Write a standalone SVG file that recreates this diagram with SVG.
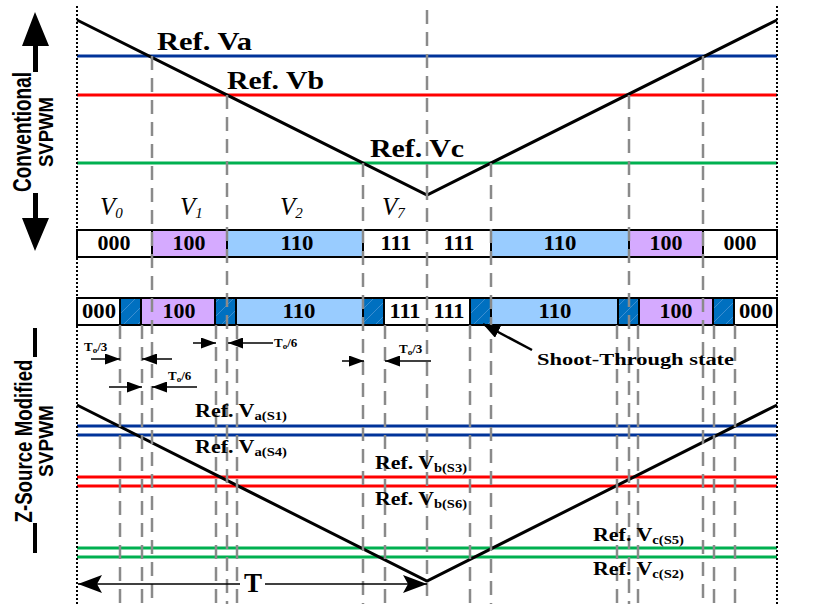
<svg xmlns="http://www.w3.org/2000/svg" width="840" height="604" viewBox="0 0 840 604">
<defs>
<style>
.ser{font-family:"Liberation Serif","Times New Roman",serif;font-weight:bold;fill:#000}
.ital{font-family:"Liberation Serif","Times New Roman",serif;font-style:italic;fill:#000}
.sans{font-family:"Liberation Sans",Arial,sans-serif;font-weight:bold;fill:#000}
.dash{stroke:#8a8a8a;stroke-width:2.5;stroke-dasharray:14 8;fill:none}
.dot{stroke:#000;stroke-width:2;stroke-dasharray:2 2;fill:none}
.tri{stroke:#000;stroke-width:3;fill:none;stroke-linejoin:miter}
.blue{stroke:#003399;stroke-width:3}
.red{stroke:#FF0000;stroke-width:3}
.green{stroke:#00B050;stroke-width:3}
.cell{stroke:#000;stroke-width:2}
.w{fill:#fff}.p{fill:#D5AAFF}.b{fill:#99CCFF}.h{fill:url(#hatch)}
.bt{font-size:20px;text-anchor:middle}
.arr{stroke:#000;stroke-width:1.5;fill:none}
.lab{font-size:18px}
.sub{font-size:12px}
.to{font-size:13px}
</style>
<pattern id="hatch" patternUnits="userSpaceOnUse" width="14" height="14">
<rect width="14" height="14" fill="#0070C0"/>
<path d="M0,14 L14,0" stroke="#4a95d6" stroke-width="0.8"/>
</pattern>
<marker id="ah" markerUnits="userSpaceOnUse" markerWidth="15" markerHeight="11" refX="15" refY="5.5" orient="auto"><path d="M0,0 L15,5.5 L0,11 z" fill="#000"/></marker>
<marker id="ahB" markerUnits="userSpaceOnUse" markerWidth="24" markerHeight="18" refX="24" refY="9" orient="auto"><path d="M0,0 L24,9 L0,18 L5,9 z" fill="#000"/></marker>
<marker id="ahS" markerUnits="userSpaceOnUse" markerWidth="17" markerHeight="13" refX="17" refY="6.5" orient="auto"><path d="M0,0 L17,6.5 L0,13 z" fill="#000"/></marker>
</defs>

<rect width="840" height="604" fill="#fff"/>

<g id="side-labels">
<path d="M35,12 L49,46 L38,46 L38,72 L33,72 L33,46 L22,46 z" fill="#000"/>
<path d="M33,193 L38,193 L38,218 L49,218 L35,251 L22,218 L33,218 z" fill="#000"/>
<text class="sans" transform="translate(31,132) rotate(-90)" text-anchor="middle" font-size="25" textLength="120" lengthAdjust="spacingAndGlyphs">Conventional</text>
<text class="sans" transform="translate(53,132) rotate(-90)" text-anchor="middle" font-size="21" textLength="70" lengthAdjust="spacingAndGlyphs">SVPWM</text>
<rect x="33" y="328" width="4" height="29" fill="#000"/>
<rect x="33" y="523" width="4" height="30" fill="#000"/>
<text class="sans" transform="translate(32,441) rotate(-90)" text-anchor="middle" font-size="24" textLength="163" lengthAdjust="spacingAndGlyphs">Z-Source Modified</text>
<text class="sans" transform="translate(53,441) rotate(-90)" text-anchor="middle" font-size="21" textLength="72" lengthAdjust="spacingAndGlyphs">SVPWM</text>
</g>

<g id="reference-lines">
<line class="blue" x1="77" y1="56" x2="777" y2="56"/>
<line class="red" x1="77" y1="95" x2="777" y2="95"/>
<line class="green" x1="77" y1="163" x2="777" y2="163"/>
<line class="blue" x1="77" y1="426" x2="777" y2="426"/>
<line class="blue" x1="77" y1="435" x2="777" y2="435"/>
<line class="red" x1="77" y1="477" x2="777" y2="477"/>
<line class="red" x1="77" y1="486" x2="777" y2="486"/>
<line class="green" x1="77" y1="548" x2="777" y2="548"/>
<line class="green" x1="77" y1="557" x2="777" y2="557"/>
</g>

<g id="carriers">
<polyline class="tri" points="77,20 427,195 777,20"/>
<polyline class="tri" points="77,405 427,581 777,405"/>
</g>

<g id="bar-conventional">
<rect class="cell w" x="77" y="230" width="75" height="27"/>
<rect class="cell p" x="152" y="230" width="75" height="27"/>
<rect class="cell b" x="227" y="230" width="136" height="27"/>
<rect class="cell w" x="363" y="230" width="128" height="27"/>
<rect class="cell b" x="491" y="230" width="138" height="27"/>
<rect class="cell p" x="629" y="230" width="74" height="27"/>
<rect class="cell w" x="703" y="230" width="74" height="27"/>
<text class="ser bt" x="114" y="250" textLength="33" lengthAdjust="spacingAndGlyphs">000</text>
<text class="ser bt" x="189" y="250" textLength="33" lengthAdjust="spacingAndGlyphs">100</text>
<text class="ser bt" x="297" y="250" textLength="33" lengthAdjust="spacingAndGlyphs">110</text>
<text class="ser bt" x="396" y="250" textLength="31" lengthAdjust="spacingAndGlyphs">111</text>
<text class="ser bt" x="459" y="250" textLength="31" lengthAdjust="spacingAndGlyphs">111</text>
<text class="ser bt" x="560" y="250" textLength="33" lengthAdjust="spacingAndGlyphs">110</text>
<text class="ser bt" x="666" y="250" textLength="33" lengthAdjust="spacingAndGlyphs">100</text>
<text class="ser bt" x="740" y="250" textLength="33" lengthAdjust="spacingAndGlyphs">000</text>
</g>

<g id="bar-zsource">
<rect class="cell w" x="77" y="298" width="43" height="27"/>
<rect class="cell h" x="120" y="298" width="21" height="27"/>
<rect class="cell p" x="141" y="298" width="74" height="27"/>
<rect class="cell h" x="215" y="298" width="21" height="27"/>
<rect class="cell b" x="236" y="298" width="127" height="27"/>
<rect class="cell h" x="363" y="298" width="21" height="27"/>
<rect class="cell w" x="384" y="298" width="86" height="27"/>
<rect class="cell h" x="470" y="298" width="21" height="27"/>
<rect class="cell b" x="491" y="298" width="127" height="27"/>
<rect class="cell h" x="618" y="298" width="21" height="27"/>
<rect class="cell p" x="639" y="298" width="74" height="27"/>
<rect class="cell h" x="713" y="298" width="21" height="27"/>
<rect class="cell w" x="734" y="298" width="43" height="27"/>
<text class="ser bt" x="99" y="318" textLength="34" lengthAdjust="spacingAndGlyphs">000</text>
<text class="ser bt" x="179" y="318" textLength="33" lengthAdjust="spacingAndGlyphs">100</text>
<text class="ser bt" x="299" y="318" textLength="33" lengthAdjust="spacingAndGlyphs">110</text>
<text class="ser bt" x="405" y="318" textLength="31" lengthAdjust="spacingAndGlyphs">111</text>
<text class="ser bt" x="449" y="318" textLength="31" lengthAdjust="spacingAndGlyphs">111</text>
<text class="ser bt" x="555" y="318" textLength="33" lengthAdjust="spacingAndGlyphs">110</text>
<text class="ser bt" x="676" y="318" textLength="33" lengthAdjust="spacingAndGlyphs">100</text>
<text class="ser bt" x="756" y="318" textLength="34" lengthAdjust="spacingAndGlyphs">000</text>
</g>

<g id="dashed-guides">
<line class="dash" x1="152" y1="56" x2="152" y2="604"/>
<line class="dash" x1="227" y1="95" x2="227" y2="604"/>
<line class="dash" x1="363" y1="163" x2="363" y2="604"/>
<line class="dash" x1="427" y1="10" x2="427" y2="604"/>
<line class="dash" x1="491" y1="163" x2="491" y2="604"/>
<line class="dash" x1="629" y1="95" x2="629" y2="604"/>
<line class="dash" x1="703" y1="56" x2="703" y2="604"/>
<line class="dash" x1="120" y1="325" x2="120" y2="604"/>
<line class="dash" x1="142" y1="325" x2="142" y2="604"/>
<line class="dash" x1="216" y1="325" x2="216" y2="604"/>
<line class="dash" x1="237" y1="325" x2="237" y2="604"/>
<line class="dash" x1="385" y1="325" x2="385" y2="604"/>
<line class="dash" x1="470" y1="325" x2="470" y2="604"/>
<line class="dash" x1="617" y1="325" x2="617" y2="604"/>
<line class="dash" x1="638" y1="325" x2="638" y2="604"/>
<line class="dash" x1="714" y1="325" x2="714" y2="604"/>
<line class="dash" x1="735" y1="325" x2="735" y2="604"/>
</g>

<g id="borders">
<line class="dot" x1="77" y1="6" x2="77" y2="604"/>
<line class="dot" x1="777" y1="6" x2="777" y2="604"/>
</g>

<g id="top-labels">
<text class="ser" x="157" y="50" font-size="25" textLength="95" lengthAdjust="spacingAndGlyphs">Ref. Va</text>
<text class="ser" x="227" y="89" font-size="25" textLength="97" lengthAdjust="spacingAndGlyphs">Ref. Vb</text>
<text class="ser" x="370" y="157" font-size="25" textLength="94" lengthAdjust="spacingAndGlyphs">Ref. Vc</text>
<text class="ital" x="100" y="215" font-size="25">V<tspan font-size="15" dy="3">0</tspan></text>
<text class="ital" x="180" y="215" font-size="25">V<tspan font-size="15" dy="3">1</tspan></text>
<text class="ital" x="280" y="215" font-size="25">V<tspan font-size="15" dy="3">2</tspan></text>
<text class="ital" x="382" y="215" font-size="25">V<tspan font-size="15" dy="3">7</tspan></text>
</g>

<g id="timing-arrows">
<line class="arr" x1="91" y1="359" x2="120" y2="359" marker-end="url(#ah)"/>
<line class="arr" x1="172" y1="359" x2="142" y2="359" marker-end="url(#ah)"/>
<text class="ser to" x="84" y="351">T<tspan font-size="9" dy="2">o</tspan><tspan dy="-2">/3</tspan></text>
<line class="arr" x1="109" y1="387" x2="142" y2="387" marker-end="url(#ah)"/>
<line class="arr" x1="197" y1="387" x2="152" y2="387" marker-end="url(#ah)"/>
<text class="ser to" x="168" y="380">T<tspan font-size="9" dy="2">o</tspan><tspan dy="-2">/6</tspan></text>
<line class="arr" x1="193" y1="343" x2="216" y2="343" marker-end="url(#ah)"/>
<line class="arr" x1="273" y1="343" x2="228" y2="343" marker-end="url(#ah)"/>
<text class="ser to" x="274" y="347">T<tspan font-size="9" dy="2">o</tspan><tspan dy="-2">/6</tspan></text>
<line class="arr" x1="342" y1="361" x2="364" y2="361" marker-end="url(#ah)"/>
<line class="arr" x1="431" y1="361" x2="385" y2="361" marker-end="url(#ah)"/>
<text class="ser to" x="399" y="353">T<tspan font-size="9" dy="2">o</tspan><tspan dy="-2">/3</tspan></text>
</g>

<g id="shoot-through">
<line stroke="#000" stroke-width="2.5" x1="532" y1="350" x2="483" y2="324" marker-end="url(#ahS)"/>
<text class="ser" x="537" y="365" font-size="17" textLength="197" lengthAdjust="spacingAndGlyphs">Shoot-Through state</text>
</g>

<g id="lower-labels">
<text class="ser lab" x="195" y="417" textLength="92" lengthAdjust="spacingAndGlyphs">Ref. V<tspan class="sub" dy="3">a(S1)</tspan></text>
<text class="ser lab" x="195" y="453" textLength="92" lengthAdjust="spacingAndGlyphs">Ref. V<tspan class="sub" dy="3">a(S4)</tspan></text>
<text class="ser lab" x="375" y="469" textLength="92" lengthAdjust="spacingAndGlyphs">Ref. V<tspan class="sub" dy="3">b(S3)</tspan></text>
<text class="ser lab" x="375" y="505" textLength="92" lengthAdjust="spacingAndGlyphs">Ref. V<tspan class="sub" dy="3">b(S6)</tspan></text>
<text class="ser lab" x="593" y="541" textLength="91" lengthAdjust="spacingAndGlyphs">Ref. V<tspan class="sub" dy="3">c(S5)</tspan></text>
<text class="ser lab" x="593" y="575" textLength="91" lengthAdjust="spacingAndGlyphs">Ref. V<tspan class="sub" dy="3">c(S2)</tspan></text>
</g>

<g id="period">
<line stroke="#000" stroke-width="1.5" x1="240" y1="584" x2="78" y2="584" marker-end="url(#ahB)"/>
<line stroke="#000" stroke-width="1.5" x1="265" y1="584" x2="427" y2="584" marker-end="url(#ahB)"/>
<text class="ser" x="253" y="592" font-size="27" text-anchor="middle">T</text>
</g>
</svg>
